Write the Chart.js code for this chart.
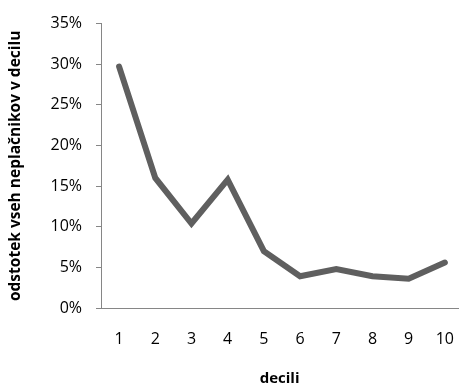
<!DOCTYPE html>
<html>
<head>
<meta charset="utf-8">
<script src="https://cdn.jsdelivr.net/npm/chart.js@4/dist/chart.umd.min.js"></script>
<style>
html,body{margin:0;padding:0;background:#fff;overflow:hidden;width:476px;height:388px;}
#c{display:block;}
</style>
</head>
<body>
<canvas id="c" width="476" height="388" style="width:476px;height:388px"></canvas>
<script>
const categories = ['1','2','3','4','5','6','7','8','9','10'];
const shares = [29.7, 16.0, 10.4, 15.8, 7.0, 3.9, 4.8, 3.9, 3.6, 5.6];
const yTicks = [0, 5, 10, 15, 20, 25, 30, 35];
const xTitle = 'decili';
const yTitle = 'odstotek vseh neplačnikov v decilu';

const FONT = '"Open Sans", sans-serif';
const points = categories.map((c, i) => ({ x: i + 1, y: shares[i] }));
new Chart(document.getElementById('c'), {
  type: 'line',
  data: {
    datasets: [{
      data: points,
      borderColor: '#5f5f5f',
      borderWidth: 6,
      pointRadius: 0,
      tension: 0,
      borderCapStyle: 'round',
      borderJoinStyle: 'miter',
      clip: false
    }]
  },
  options: {
    responsive: false,
    devicePixelRatio: 1,
    animation: false,
    layout: { padding: { top: 20, right: 0, bottom: 0, left: 6 } },
    plugins: { legend: { display: false }, tooltip: { enabled: false } },
    scales: {
      x: {
        type: 'linear',
        min: 0.5,
        max: 10.37,
        afterFit: (axis) => { axis.height = 80; },
        afterBuildTicks: (axis) => { axis.ticks = categories.map((c, i) => ({ value: i + 1 })); },
        grid: { display: false, drawTicks: false },
        border: { display: true, color: '#868686', width: 1 },
        ticks: { color: '#000', font: { family: FONT, size: 16 }, padding: 22, maxRotation: 0, autoSkip: false,
                 callback: (v) => categories[v - 1] },
        title: { display: true, text: xTitle, color: '#000', font: { family: FONT, size: 15, weight: 'bold' }, padding: { top: 0, bottom: 0 } }
      },
      y: {
        min: 0, max: 35,
        afterFit: (axis) => { axis.width = 95; },
        afterBuildTicks: (axis) => { axis.ticks = yTicks.map(v => ({ value: v })); },
        grid: { display: true, drawOnChartArea: false, drawTicks: true, tickLength: 5, color: '#868686' },
        border: { display: true, color: '#868686', width: 1 },
        ticks: { color: '#000', font: { family: FONT, size: 16 }, padding: 14, callback: v => v + '%' },
        title: { display: true, text: yTitle, color: '#000', font: { family: FONT, size: 15.5, weight: 'bold' }, padding: { top: 0, bottom: 0 } }
      }
    }
  }
});
</script>
</body>
</html>
